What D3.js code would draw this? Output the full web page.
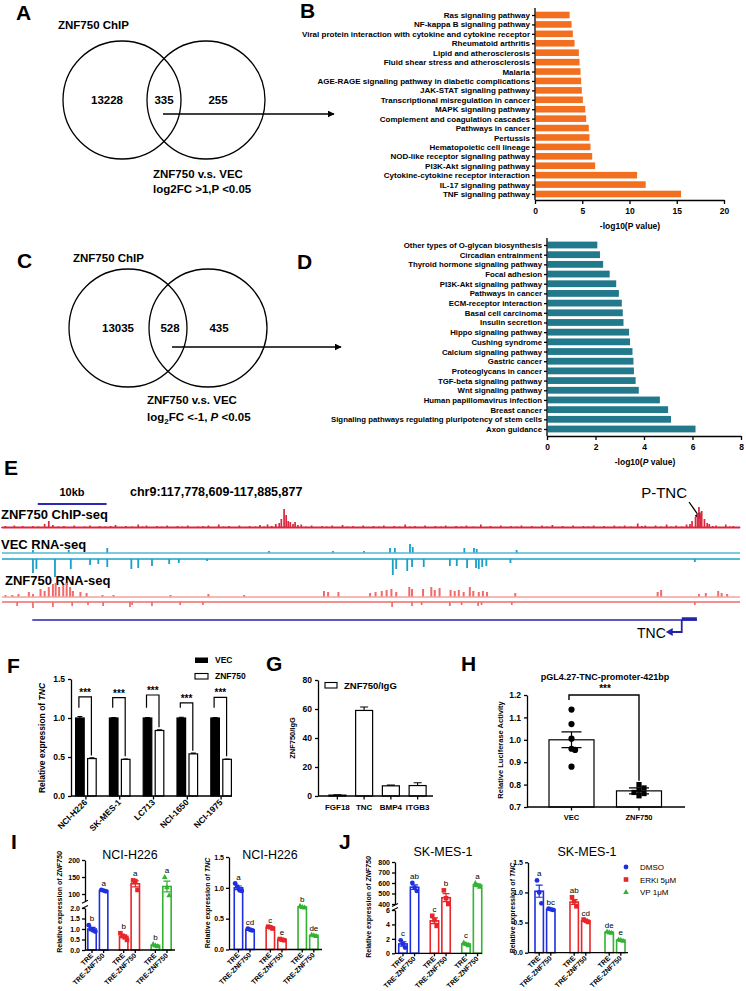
<!DOCTYPE html>
<html>
<head>
<meta charset="utf-8">
<script src="https://cdn.jsdelivr.net/npm/d3@7"></script>
<style>
body { margin: 0; background: #fff; }
svg { display: block; font-family: 'Liberation Sans', Arial, Helvetica, sans-serif; }
</style>
</head>
<body>
<script>
// ---------------- data ----------------
const VENN_UP = [13228, 335, 255];
const VENN_DOWN = [13035, 528, 435];

const KEGG_UP_TERMS = ['Ras signaling pathway', 'NF-kappa B signaling pathway',
  'Viral protein interaction with cytokine and cytokine receptor', 'Rheumatoid arthritis',
  'Lipid and atherosclerosis', 'Fluid shear stress and atherosclerosis', 'Malaria',
  'AGE-RAGE signaling pathway in diabetic complications', 'JAK-STAT signaling pathway',
  'Transcriptional misregulation in cancer', 'MAPK signaling pathway',
  'Complement and coagulation cascades', 'Pathways in cancer', 'Pertussis',
  'Hematopoietic cell lineage', 'NOD-like receptor signaling pathway', 'PI3K-Akt signaling pathway',
  'Cytokine-cytokine receptor interaction', 'IL-17 signaling pathway', 'TNF signaling pathway'];
const KEGG_UP_VALUES = [3.6, 3.8, 3.94, 4.12, 4.58, 4.65, 4.75, 4.82, 4.89, 5.0, 5.25, 5.35,
  5.63, 5.7, 5.81, 5.99, 6.3, 10.74, 11.65, 15.39];

const KEGG_DOWN_TERMS = ['Other types of O-glycan biosynthesis', 'Circadian entrainment',
  'Thyroid hormone signaling pathway', 'Focal adhesion', 'PI3K-Akt signaling pathway',
  'Pathways in cancer', 'ECM-receptor interaction', 'Basal cell carcinoma', 'Insulin secretion',
  'Hippo signaling pathway', 'Cushing syndrome', 'Calcium signaling pathway', 'Gastric cancer',
  'Proteoglycans in cancer', 'TGF-beta signaling pathway', 'Wnt signaling pathway',
  'Human papillomavirus infection', 'Breast cancer',
  'Signaling pathways regulating pluripotency of stem cells', 'Axon guidance'];
const KEGG_DOWN_VALUES = [2.05, 2.16, 2.29, 2.56, 2.83, 2.94, 3.06, 3.1, 3.13, 3.36, 3.4, 3.5,
  3.54, 3.56, 3.63, 3.76, 4.63, 4.97, 5.09, 6.1];

// genome browser, positions in kb from region start, heights in signal units
const REGION_START = 117778609, REGION_END = 117885877;
const CHIP_SIGNAL = [[0,1],[0.5,2],[1.2,1],[1.8,2.5],[2.4,1],[3,2],[3.7,1],[4.5,2],[5.3,1.5],[6.2,4],
  [6.8,7],[7.4,3],[8.2,1.5],[9,2],[9.8,1],[10.5,2.5],[11.2,1],[12,1.5],[12.8,2.5],[13.5,1],[14.2,2],
  [15,1.5],[15.8,2],[16.5,3],[17.2,1],[18,2],[18.9,1.5],[19.8,3.5],[20.4,1.5],[21,2.5],[21.8,1],
  [22.5,2],[23.2,1.5],[24,2.5],[24.8,1],[25.5,2],[26.2,1.5],[27,2.5],[27.8,1],[28.5,1.5],[29.2,2],
  [30,2.5],[30.7,1],[31.5,3.5],[32.2,1.5],[33,2],[33.8,1],[34.5,2.5],[35.2,1],[36,2],[36.8,1.5],
  [37.5,3],[38.1,1.5],[38.6,3.5],[39.2,2],[39.8,4],[40.3,5],[40.6,9],[41.0,19],[41.3,13],[41.6,7],
  [41.9,6],[42.3,4],[42.6,6],[43.0,3],[43.5,3.5],[44.2,1.5],[45,2.5],[45.8,1],[46.5,2],[47.2,1.5],
  [48,2.5],[48.8,1],[49.5,3],[50.2,1.5],[51,2],[51.8,1],[52.5,2.5],[53.2,1],[54,2],[54.8,1.5],
  [55.5,2.5],[56.2,1],[57,2],[57.8,1.5],[58.6,3.5],[59.3,1.5],[60,2],[60.8,1],[61.5,2.5],[62.2,1],
  [63,2],[63.8,1.5],[64.5,2.5],[65.2,1],[66,2],[66.8,1.5],[67.5,2.5],[68.5,1.5],[69.6,3.5],[70.3,1],
  [71,2],[71.8,1],[72.5,2.5],[73.2,1],[74,2],[74.8,1.5],[75.5,2.5],[76.2,1],[77,2],[77.8,1],
  [78.5,2.5],[79.2,1.5],[80,3],[80.8,1],[81.5,2],[82.2,1],[83,2.5],[83.8,1],[84.5,2],[85.2,1.5],
  [86,2.5],[86.8,1],[87.5,2],[88.2,1],[89,2.5],[89.8,1.5],[90.5,2.5],[91.4,1.5],[92.4,4.5],[93,2],
  [93.5,2.5],[94.2,1],[95,2.5],[95.8,1.5],[96.6,3.5],[97.3,1.5],[98,2.5],[98.8,1.5],[99.5,3.5],
  [100,4],[100.3,7],[100.8,11],[101.1,15],[101.3,21],[101.5,14],[101.7,17],[102.1,9],[102.5,5],
  [102.8,4],[103.3,2],[103.8,2.5],[104.5,1],[105.2,3.5],[105.8,1.5],[106.3,2],[107.2,1]];
const VEC_PLUS = [[4.5,3],[9.7,3],[15.3,5],[38.8,2],[48.1,2],[52.6,2],[56.4,5],[57.1,5],[59.3,9],
  [59.7,6],[67.2,5],[68.6,5],[69.0,4],[74.8,3]];
const VEC_MINUS = [[4.5,14],[5.0,10],[7.7,18],[10.0,10],[12.8,6],[14.0,5],[15.3,8],[18.8,10],[19.8,9],
  [21.8,7],[24.3,5],[25.7,4],[29.8,2],[56.8,16],[57.3,10],[58.9,12],[59.6,8],[61.3,8],[65.1,7],
  [66.1,7],[67.6,9],[68.9,9],[69.3,10],[69.8,8],[70.4,7],[73.9,4],[100.7,3]];
const ZNF_PLUS = [[0.5,2],[1.5,2],[2.4,3],[3.9,5],[4.5,3],[5.6,8],[6.2,6],[6.8,10],[7.4,13],[7.8,14],
  [8.3,10],[8.9,12],[9.4,14],[9.9,10],[10.3,6],[11.4,5],[12.3,4],[14.6,2],[16.2,2],[24.5,2],[30,3],
  [35.2,2],[46.8,6],[47.4,5],[48.9,5],[53.5,4],[54.3,5],[55.2,6],[55.9,7],[56.6,8],[57.3,5],[59.2,10],
  [59.6,8],[61.2,8],[62.4,10],[62.9,7],[63.6,9],[65.2,7],[65.8,6],[66.4,7],[67.1,5],[68.0,10],
  [68.5,6],[69.3,5],[69.9,6],[70.5,5],[74.6,4],[95.3,5],[95.8,7],[101.3,3],[102.3,4],[104.1,6],
  [104.6,4],[105.4,3]];
const ZNF_MINUS = [[2.2,4],[4.5,6],[7.4,5],[10.2,4],[12.5,3],[14.7,4],[18.6,5],[18.9,3],[21.8,4],
  [25.9,3],[29.2,3],[56.7,5],[59.6,4],[61.0,3],[65.1,4],[66.8,3],[69.2,4],[69.7,3],[74.1,3],[100.7,3]];
const TNC_GENE = [4.4, 101.0];

// F: qPCR TNC in cell lines
const F_LINES = ['NCI-H226', 'SK-MES-1', 'LC713', 'NCI-1650', 'NCI-1975'];
const F_VEC = [1.0, 1.0, 1.0, 1.0, 1.0];
const F_VEC_ERR = [0.02, 0.005, 0.005, 0.01, 0.005];
const F_ZNF = [0.48, 0.47, 0.84, 0.54, 0.47];
const F_ZNF_ERR = [0.01, 0.005, 0.01, 0.01, 0.005];
const F_BRACKET = [1.27, 1.26, 1.295, 1.195, 1.265];

// G: ChIP-qPCR
const G_GENES = ['FGF18', 'TNC', 'BMP4', 'ITGB3'];
const G_VALUES = [0.6, 59, 7, 7.2];
const G_ERR = [0.2, 2.4, 0.5, 1.9];

// H: luciferase
const H_GROUPS = ['VEC', 'ZNF750'];
const H_MEANS = [1.0, 0.772];
const H_SEM = [0.035, 0.013];
const H_POINTS = [[1.135, 1.07, 1.005, 0.96, 0.955, 0.88], [0.80, 0.785, 0.775, 0.765, 0.76, 0.75]];

// I / J: TRE vs TRE-ZNF750 under three treatments
const CONDITIONS = ['DMSO', 'ERKi 5μM', 'VP 1μM'];
const SAMPLES = ['TRE', 'TRE-ZNF750'];
const I_ZNF_MEANS = [1.0, 110, 0.65, 130, 0.22, 122];
const I_ZNF_SEM = [0.08, 1.5, 0.07, 9, 0.03, 16];
const I_ZNF_POINTS = [[1.18, 1.0, 0.93, 0.88], [112, 110, 108], [0.8, 0.68, 0.6, 0.48], [140, 138, 112],
  [0.28, 0.22, 0.18], [150, 120, 96]];
const I_ZNF_LETTERS = ['b', 'a', 'b', 'a', 'b', 'a'];
const I_TNC_MEANS = [1.0, 0.32, 0.36, 0.16, 0.69, 0.23];
const I_TNC_SEM = [0.03, 0.01, 0.01, 0.005, 0.01, 0.005];
const I_TNC_POINTS = [[1.07, 1.02, 0.96, 0.95], [0.34, 0.32, 0.31], [0.37, 0.36, 0.34], [0.17, 0.16, 0.15],
  [0.71, 0.69, 0.68], [0.24, 0.23, 0.22]];
const I_TNC_LETTERS = ['a', 'cd', 'c', 'e', 'b', 'de'];
const J_ZNF_MEANS = [1.3, 560, 4.5, 460, 1.3, 580];
const J_ZNF_SEM = [0.3, 22, 0.4, 38, 0.12, 12];
const J_ZNF_POINTS = [[1.8, 1.3, 0.8], [600, 555, 525], [5.2, 4.6, 3.8], [530, 455, 400], [1.5, 1.3, 1.1],
  [600, 578, 565]];
const J_ZNF_LETTERS = ['c', 'ab', 'c', 'b', 'c', 'a'];
const J_TNC_MEANS = [1.02, 0.72, 0.84, 0.53, 0.34, 0.21];
const J_TNC_SEM = [0.1, 0.01, 0.04, 0.01, 0.005, 0.005];
const J_TNC_POINTS = [[1.2, 1.0, 0.82], [0.73, 0.72, 0.71], [0.92, 0.85, 0.77], [0.55, 0.53, 0.51],
  [0.35, 0.34, 0.33], [0.22, 0.21, 0.2]];
const J_TNC_LETTERS = ['a', 'bc', 'ab', 'cd', 'de', 'e'];

const COND_COLORS = ['#1f2fe0', '#e8262a', '#33b233'];

// ---------------- helpers ----------------
const svg = d3.select('body').append('svg').attr('width', 746).attr('height', 991);

function txt(x, y, s, o) {
  o = o || {};
  return svg.append('text').attr('x', x).attr('y', y).text(s)
    .attr('font-size', o.size || 10)
    .attr('font-weight', o.bold === false ? 'normal' : 'bold')
    .attr('text-anchor', o.anchor || 'start')
    .attr('fill', o.color || '#000');
}

// rotated title with optional italic parts
function yTitle(x, y, parts, size) {
  const t = svg.append('text').attr('transform', `translate(${x},${y}) rotate(-90)`)
    .attr('text-anchor', 'middle').attr('font-size', size).attr('font-weight', 'bold');
  parts.forEach(p => t.append('tspan').text(p[0]).attr('font-style', p[1] ? 'italic' : null));
  return t;
}

function styleAxis(sel, size) {
  sel.attr('font-family', null).attr('font-size', size).attr('font-weight', 'bold');
  sel.selectAll('line,path').attr('stroke-width', 1.3);
}

function line(x1, y1, x2, y2, color, w) {
  return svg.append('line').attr('x1', x1).attr('y1', y1).attr('x2', x2).attr('y2', y2)
    .attr('stroke', color || '#000').attr('stroke-width', w || 1.3);
}

svg.append('defs').append('marker').attr('id', 'arr').attr('viewBox', '0 0 10 10')
  .attr('refX', 9).attr('refY', 5).attr('markerWidth', 7).attr('markerHeight', 7)
  .attr('markerUnits', 'userSpaceOnUse').attr('orient', 'auto')
  .append('path').attr('d', 'M0,0L10,5L0,10Z').attr('fill', '#000');

// panel letters
[['A', 16, 20], ['B', 300, 18], ['C', 17, 268], ['D', 297, 269], ['E', 4, 475], ['F', 7, 673],
 ['G', 266, 671], ['H', 461, 671], ['I', 11, 849], ['J', 339, 849]].forEach(d => txt(d[1], d[2], d[0], { size: 21 }));

// ---------------- A / C venn ----------------
function venn(counts, o) {
  const g = svg.append('g');
  g.selectAll('circle').data(o.centers).enter().append('circle')
    .attr('cx', d => d[0]).attr('cy', o.cy).attr('r', o.r)
    .attr('fill', 'none').attr('stroke', '#000').attr('stroke-width', 1.3);
  counts.forEach((c, i) => txt(o.labelX[i], o.cy + 4, c, { size: 11.5, anchor: 'middle' }));
  txt(o.titleX, o.titleY, 'ZNF750 ChIP', { size: 11.5 });
  svg.append('line').attr('x1', o.arrow[0]).attr('x2', o.arrow[1]).attr('y1', o.arrowY).attr('y2', o.arrowY)
    .attr('stroke', '#000').attr('stroke-width', 1.3).attr('marker-end', 'url(#arr)');
}
venn(VENN_UP, { centers: [[122], [206]], cy: 100, r: 59, labelX: [107, 164, 218], titleX: 58, titleY: 29,
  arrow: [163, 334], arrowY: 114 });
txt(153, 178, 'ZNF750 v.s. VEC', { size: 11.5 });
txt(153, 193, 'log2FC >1,P <0.05', { size: 11.5 });

venn(VENN_DOWN, { centers: [[128], [208]], cy: 328, r: 59, labelX: [118, 170, 219], titleX: 73, titleY: 262,
  arrow: [172, 341], arrowY: 347 });
txt(147, 404, 'ZNF750 v.s. VEC', { size: 11.5 });
{
  const t = txt(147, 421, 'log', { size: 11.5 });
  t.append('tspan').text('2').attr('font-size', 8).attr('dy', 3);
  t.append('tspan').text('FC <-1, ').attr('dy', -3);
  t.append('tspan').text('P').attr('font-style', 'italic');
  t.append('tspan').text(' <0.05');
}

// ---------------- B / D KEGG bars ----------------
function keggBars(terms, values, o) {
  const x = d3.scaleLinear().domain([0, o.max]).range([o.left, o.right]);
  const y = d3.scalePoint().domain(terms).range([o.top, o.bottom]);
  const g = svg.append('g');
  g.selectAll('rect').data(terms).enter().append('rect')
    .attr('x', o.left + 0.6).attr('y', d => y(d) - o.bh / 2)
    .attr('width', (d, i) => x(values[i]) - o.left).attr('height', o.bh).attr('fill', o.color);
  const ya = g.append('g').attr('transform', `translate(${o.left},0)`)
    .call(d3.axisLeft(y).tickSize(3).tickPadding(2));
  ya.select('.domain').remove();
  styleAxis(ya, o.fs);
  g.append('line').attr('x1', o.left).attr('x2', o.left).attr('y1', o.top - 7).attr('y2', o.axisY)
    .attr('stroke', '#000').attr('stroke-width', 1.3);
  const xa = g.append('g').attr('transform', `translate(0,${o.axisY})`)
    .call(d3.axisBottom(x).tickValues(o.ticks).tickSize(4).tickSizeOuter(0).tickPadding(4));
  styleAxis(xa, 8.5);
}
keggBars(KEGG_UP_TERMS, KEGG_UP_VALUES, { max: 20, left: 535, right: 724, top: 15, bottom: 194,
  bh: 6.6, axisY: 200, ticks: [0, 5, 10, 15, 20], color: '#f26f1f', fs: 8 });
txt(630, 229, '-log10(P value)', { size: 8.5, anchor: 'middle' });

keggBars(KEGG_DOWN_TERMS, KEGG_DOWN_VALUES, { max: 8, left: 547, right: 741, top: 245, bottom: 429,
  bh: 6.8, axisY: 436, ticks: [0, 2, 4, 6, 8], color: '#23798c', fs: 7.8 });
{
  const t = txt(645, 465, '-log10(', { size: 8.5, anchor: 'middle' });
  t.append('tspan').text('P').attr('font-style', 'italic');
  t.append('tspan').text(' value)');
}

// ---------------- E genome tracks ----------------
const gx = d3.scaleLinear().domain([0, (REGION_END - REGION_START) / 1000]).range([2, 740]);
const sig = d3.scaleLinear().domain([0, 20]).range([0, 20]);

function track(data, base, dir, color, w) {
  svg.append('g').selectAll('rect').data(data).enter().append('rect')
    .attr('x', d => gx(d[0]) - w / 2).attr('width', w)
    .attr('y', d => dir > 0 ? base - sig(d[1]) : base)
    .attr('height', d => sig(d[1])).attr('fill', color);
}

txt(72, 496, '10kb', { size: 11, anchor: 'middle' });
line(gx(5.2), 504, gx(15.2), 504, '#2a2ab5', 2);
txt(130, 496, 'chr9:' + d3.format(',')(REGION_START) + '-' + d3.format(',')(REGION_END), { size: 12.5 });
txt(687, 498, 'P-TNC', { size: 15, bold: false, anchor: 'end' });
svg.append('line').attr('x1', 689).attr('y1', 502).attr('x2', 701).attr('y2', 519)
  .attr('stroke', '#000').attr('stroke-width', 1.3).attr('marker-end', 'url(#arr)');

// ChIP-seq: spiky bars on a thick noisy baseline
line(gx(0), 527.5, gx(107.27), 527.5, '#d8283f', 2);
track(CHIP_SIGNAL, 528, 1, '#d8283f', 1.7);
txt(1, 519, 'ZNF750 ChIP-seq', { size: 13 });

// VEC RNA-seq
txt(1, 549, 'VEC RNA-seq', { size: 13 });
track(VEC_PLUS, 553, 1, '#1a9fc8', 1.8);
track(VEC_MINUS, 559, -1, '#1a9fc8', 1.8);
line(gx(0), 553, gx(107.27), 553, '#55b7d6', 1.3);
line(gx(0), 559, gx(107.27), 559, '#1a9fc8', 1.3);

// ZNF750 RNA-seq
txt(5, 585, 'ZNF750 RNA-seq', { size: 13 });
track(ZNF_PLUS, 597, 1, '#f26a6a', 2);
track(ZNF_MINUS, 602, -1, '#f26a6a', 1.7);
line(gx(0), 597, gx(107.27), 597, '#f4a0a0', 1.3);
line(gx(0), 602, gx(107.27), 602, '#f26a6a', 1.3);

// TNC gene model
line(gx(TNC_GENE[0]), 620, gx(TNC_GENE[1]), 620, '#2424a8', 1.6);
line(gx(98.8), 619, gx(TNC_GENE[1]), 619, '#2424a8', 3.5);
svg.append('path').attr('d', `M${gx(98.8)},620V632H${gx(98.8) - 10}`).attr('fill', 'none')
  .attr('stroke', '#2424a8').attr('stroke-width', 1.8);
svg.append('path').attr('d', `M${gx(98.8) - 16},632l7,-4v8z`).attr('fill', '#2424a8');
txt(637, 638, 'TNC', { size: 14, bold: false });

// ---------------- F ----------------
{
  const x = d3.scaleBand().domain(F_LINES).range([69, 238]);
  const y = d3.scaleLinear().domain([0, 1.5]).range([796, 679]);
  const cx = d => x(d) + x.bandwidth() / 2;
  const ya = svg.append('g').attr('transform', 'translate(71,0)')
    .call(d3.axisLeft(y).tickValues([0, 0.5, 1, 1.5]).tickFormat(d3.format('.1f')).tickSize(3).tickSizeOuter(0));
  styleAxis(ya, 8.5);
  const g = svg.append('g');
  [[F_VEC, F_VEC_ERR, '#000', -6], [F_ZNF, F_ZNF_ERR, '#fff', 6]].forEach(s => {
    g.selectAll(null).data(F_LINES).enter().append('rect')
      .attr('x', d => cx(d) + s[3] - 4.3).attr('width', 8.6)
      .attr('y', (d, i) => y(s[0][i])).attr('height', (d, i) => 796 - y(s[0][i]))
      .attr('fill', s[2]).attr('stroke', '#000').attr('stroke-width', 1.2);
    g.selectAll(null).data(F_LINES).enter().append('path')
      .attr('d', (d, i) => {
        const c = cx(d) + s[3], t = y(s[0][i] + s[1][i]);
        return `M${c},${y(s[0][i])}V${t}M${c - 2.5},${t}H${c + 2.5}`;
      }).attr('stroke', '#000').attr('stroke-width', 1.1).attr('fill', 'none');
  });
  // significance brackets
  F_LINES.forEach((d, i) => {
    const b = y(F_BRACKET[i]), l = cx(d) - 7, r = cx(d) + 5.5;
    svg.append('path').attr('d', `M${l},${y(1.13)}V${b}H${r}V${y(F_ZNF[i] + 0.04)}`)
      .attr('fill', 'none').attr('stroke', '#000').attr('stroke-width', 1.2);
    txt((l + r) / 2, b - 1, '***', { size: 10, anchor: 'middle' });
  });
  line(71, 796, 232, 796);
  F_LINES.forEach(d => line(cx(d), 796, cx(d), 799.5));
  svg.append('g').selectAll('text').data(F_LINES).enter().append('text')
    .attr('transform', d => `translate(${cx(d) + 2},${803}) rotate(-45)`)
    .attr('text-anchor', 'end').attr('font-size', 8.5).attr('font-weight', 'bold').text(d => d);
  yTitle(45, 738, [['Relative expression of ', false], ['TNC', true]], 8.5);
  // legend
  svg.append('rect').attr('x', 195).attr('y', 657.5).attr('width', 13).attr('height', 5.5).attr('fill', '#000');
  txt(215, 663, 'VEC', { size: 8.5 });
  svg.append('rect').attr('x', 195).attr('y', 673.5).attr('width', 13).attr('height', 5.5)
    .attr('fill', '#fff').attr('stroke', '#000').attr('stroke-width', 1.1);
  txt(215, 679, 'ZNF750', { size: 8.5 });
}

// ---------------- G ----------------
{
  const x = d3.scaleBand().domain(G_GENES).range([324, 431]);
  const y = d3.scaleLinear().domain([0, 80]).range([796, 680]);
  const cx = d => x(d) + x.bandwidth() / 2;
  const ya = svg.append('g').attr('transform', 'translate(318,0)')
    .call(d3.axisLeft(y).tickValues([0, 20, 40, 60, 80]).tickSize(3).tickSizeOuter(0));
  styleAxis(ya, 8.5);
  svg.append('g').selectAll('rect').data(G_GENES).enter().append('rect')
    .attr('x', d => cx(d) - 8.5).attr('width', 17)
    .attr('y', (d, i) => y(G_VALUES[i])).attr('height', (d, i) => 796 - y(G_VALUES[i]))
    .attr('fill', '#fff').attr('stroke', '#000').attr('stroke-width', 1.2);
  svg.append('g').selectAll('path').data(G_GENES).enter().append('path')
    .attr('d', (d, i) => {
      const c = cx(d), t = y(G_VALUES[i] + G_ERR[i]);
      return `M${c},${y(G_VALUES[i])}V${t}M${c - 4},${t}H${c + 4}`;
    }).attr('stroke', '#000').attr('stroke-width', 1.1).attr('fill', 'none');
  line(318, 796, 433, 796);
  G_GENES.forEach(d => line(cx(d), 796, cx(d), 799.5));
  G_GENES.forEach(d => txt(cx(d), 810, d, { size: 8, anchor: 'middle' }));
  yTitle(295, 738, [['ZNF750/IgG', false]], 7.5);
  svg.append('rect').attr('x', 325).attr('y', 682.5).attr('width', 12).attr('height', 5.5)
    .attr('fill', '#fff').attr('stroke', '#000').attr('stroke-width', 1.1);
  txt(344, 689, 'ZNF750/IgG', { size: 9.5 });
}

// beeswarm-ish offsets so nearby dots do not overlap
function spread(vals, thresh, step) {
  const placed = [];
  return vals.map(v => {
    const cands = [0, step, -step, 2 * step, -2 * step, 3 * step];
    const off = cands.find(c => !placed.some(p => Math.abs(p[0] - v) < thresh && Math.abs(p[1] - c) < step * 0.9));
    placed.push([v, off]);
    return off;
  });
}

// ---------------- H ----------------
{
  const x = d3.scalePoint().domain(H_GROUPS).range([571.5, 639]);
  const y = d3.scaleLinear().domain([0.7, 1.2]).range([807, 695]);
  const ya = svg.append('g').attr('transform', 'translate(527,0)')
    .call(d3.axisLeft(y).tickValues([0.7, 0.8, 0.9, 1.0, 1.1, 1.2]).tickFormat(d3.format('.1f')).tickSize(3).tickSizeOuter(0));
  styleAxis(ya, 8.5);
  H_GROUPS.forEach((d, i) => {
    svg.append('rect').attr('x', x(d) - 22.5).attr('width', 45).attr('y', y(H_MEANS[i]))
      .attr('height', 807 - y(H_MEANS[i])).attr('fill', '#fff').attr('stroke', '#000').attr('stroke-width', 1.2);
    const offs = spread(H_POINTS[i], i ? 0.022 : 0.012, i ? 5 : 3.6);
    const pts = svg.append('g').selectAll(null).data(H_POINTS[i]).enter();
    if (i === 0) {
      pts.append('circle').attr('cx', (v, j) => x(d) + offs[j]).attr('cy', v => y(v)).attr('r', 3.1).attr('fill', '#000');
    } else {
      pts.append('rect').attr('x', (v, j) => x(d) + offs[j] - 2.6).attr('y', v => y(v) - 2.6)
        .attr('width', 5.2).attr('height', 5.2).attr('fill', '#000');
    }
    const lo = y(H_MEANS[i] - H_SEM[i]), hi = y(H_MEANS[i] + H_SEM[i]);
    svg.append('path').attr('d', `M${x(d)},${lo}V${hi}M${x(d) - 10},${hi}H${x(d) + 10}M${x(d) - 10},${lo}H${x(d) + 10}`)
      .attr('stroke', '#000').attr('stroke-width', 1.2).attr('fill', 'none');
  });
  svg.append('path').attr('d', `M${x('VEC') - 2.5},${y(1.178)}V${y(1.2)}H${x('ZNF750')}V${y(0.817)}`)
    .attr('fill', 'none').attr('stroke', '#000').attr('stroke-width', 1.4);
  txt(605, 692, '***', { size: 10, anchor: 'middle' });
  txt(605, 680, 'pGL4.27-TNC-promoter-421bp', { size: 9 , anchor: 'middle' });
  line(527, 807, 685, 807);
  H_GROUPS.forEach(d => { line(x(d), 807, x(d), 810.5); txt(x(d), 820, d, { size: 7.5, anchor: 'middle' }); });
  yTitle(503, 750, [['Relative Luciferase Activity', false]], 7.5);
}

// ---------------- I / J ----------------
function shape(sel, ci, cx, cy) {
  const c = COND_COLORS[ci];
  if (ci === 0) sel.append('circle').attr('cx', cx).attr('cy', cy).attr('r', 2.4).attr('fill', c);
  else if (ci === 1) sel.append('rect').attr('x', cx - 2.3).attr('y', cy - 2.3).attr('width', 4.6).attr('height', 4.6).attr('fill', c);
  else sel.append('path').attr('d', `M${cx},${cy - 3}L${cx + 2.8},${cy + 2}L${cx - 2.8},${cy + 2}Z`).attr('fill', c);
}

function treatChart(o) {
  const g = svg.append('g');
  const lowMax = o.lower.domain()[1];
  const yv = v => (o.upper && v > lowMax) ? o.upper(v) : o.lower(v);
  const base = o.lower(0);
  const x = d3.scaleBand().domain(CONDITIONS).range(o.xr);
  const cx = i => x(CONDITIONS[Math.floor(i / 2)]) + x.bandwidth() / 2 + (i % 2 ? 1 : -1) * 5.8;

  o.means.forEach((m, i) => {
    const ci = Math.floor(i / 2), c = COND_COLORS[ci], X = cx(i);
    g.append('rect').attr('x', X - 4.2).attr('width', 8.4).attr('y', yv(m)).attr('height', base - yv(m))
      .attr('fill', '#fff').attr('stroke', c).attr('stroke-width', 1.6);
    o.points[i].forEach((v, j) => shape(g, ci, X + (j - (o.points[i].length - 1) / 2) * 2.2, yv(v)));
    const lo = yv(m - o.sem[i]), hi = yv(m + o.sem[i]);
    g.append('path').attr('d', `M${X},${lo}V${hi}M${X - 3.5},${hi}H${X + 3.5}M${X - 3.5},${lo}H${X + 3.5}`)
      .attr('stroke', c).attr('stroke-width', 1.2).attr('fill', 'none');
    const top = Math.min(hi, d3.min(o.points[i], yv));
    g.append('text').attr('x', X).attr('y', top - 4).attr('text-anchor', 'middle')
      .attr('font-size', 8).text(o.letters[i]);
  });

  const fmt = o.fmt || d3.format('.1f');
  const la = svg.append('g').attr('transform', `translate(${o.axisX},0)`)
    .call(d3.axisLeft(o.lower).tickValues(o.lowTicks).tickFormat(fmt).tickSize(3).tickPadding(2).tickSizeOuter(0));
  styleAxis(la, 7);
  if (o.upper) {
    const ua = svg.append('g').attr('transform', `translate(${o.axisX},0)`)
      .call(d3.axisLeft(o.upper).tickValues(o.upTicks).tickFormat(d3.format('d')).tickSize(3).tickPadding(2).tickSizeOuter(0));
    styleAxis(ua, 7);
    const b0 = o.upper.range()[0], b1 = o.lower.range()[1];
    [b0 + 1, b1 - 1].forEach(yy => line(o.axisX - 3, yy + 1.5, o.axisX + 3, yy - 1.5, '#000', 1.1));
  }
  line(o.axisX, base, o.axisEnd, base);
  o.means.forEach((m, i) => line(cx(i), base, cx(i), base + 3));
  svg.append('g').selectAll('text').data(o.means).enter().append('text')
    .attr('transform', (m, i) => `translate(${cx(i) + 1.5},${base + 6}) rotate(-45)`)
    .attr('text-anchor', 'end').attr('font-size', 7).attr('font-weight', 'bold')
    .text((m, i) => SAMPLES[i % 2]);
  txt(o.titleX, o.titleY, o.title, { size: 12.5, bold: false, anchor: 'middle' });
  yTitle(o.yTitleX, o.yTitleY, [['Relative expression of ', false], [o.gene, true]], 7);
}

treatChart({ means: I_ZNF_MEANS, sem: I_ZNF_SEM, points: I_ZNF_POINTS, letters: I_ZNF_LETTERS,
  lower: d3.scaleLinear().domain([0, 2]).range([950, 908]), lowTicks: [0, 0.5, 1, 1.5, 2],
  upper: d3.scaleLinear().domain([80, 200]).range([900.8, 860]), upTicks: [100, 150, 200],
  axisX: 85, axisEnd: 175, xr: [82, 177], title: 'NCI-H226', titleX: 130, titleY: 859,
  gene: 'ZNF750', yTitleX: 62, yTitleY: 902 });
treatChart({ means: I_TNC_MEANS, sem: I_TNC_SEM, points: I_TNC_POINTS, letters: I_TNC_LETTERS,
  lower: d3.scaleLinear().domain([0, 1.5]).range([949.5, 857]), lowTicks: [0, 0.5, 1, 1.5],
  axisX: 229, axisEnd: 322, xr: [228.3, 324], title: 'NCI-H226', titleX: 270, titleY: 859,
  gene: 'TNC', yTitleX: 210, yTitleY: 903 });
treatChart({ means: J_ZNF_MEANS, sem: J_ZNF_SEM, points: J_ZNF_POINTS, letters: J_ZNF_LETTERS,
  lower: d3.scaleLinear().domain([0, 6]).range([953.3, 910]), lowTicks: [0, 2, 4, 6], fmt: d3.format('d'),
  upper: d3.scaleLinear().domain([400, 800]).range([904, 862]), upTicks: [400, 500, 600, 700, 800],
  axisX: 395, axisEnd: 482, xr: [393, 487.5], title: 'SK-MES-1', titleX: 443, titleY: 856,
  gene: 'ZNF750', yTitleX: 371, yTitleY: 907 });
treatChart({ means: J_TNC_MEANS, sem: J_TNC_SEM, points: J_TNC_POINTS, letters: J_TNC_LETTERS,
  lower: d3.scaleLinear().domain([0, 1.5]).range([952.7, 862.3]), lowTicks: [0, 0.5, 1, 1.5],
  axisX: 528, axisEnd: 628, xr: [527.5, 632.5], title: 'SK-MES-1', titleX: 587, titleY: 856,
  gene: 'TNC', yTitleX: 515, yTitleY: 908 });

// legend for I/J
CONDITIONS.forEach((c, i) => {
  shape(svg, i, 626, 867 + i * 12.5);
  txt(640, 870 + i * 12.5, c, { size: 8, bold: false });
});
</script>
</body>
</html>
